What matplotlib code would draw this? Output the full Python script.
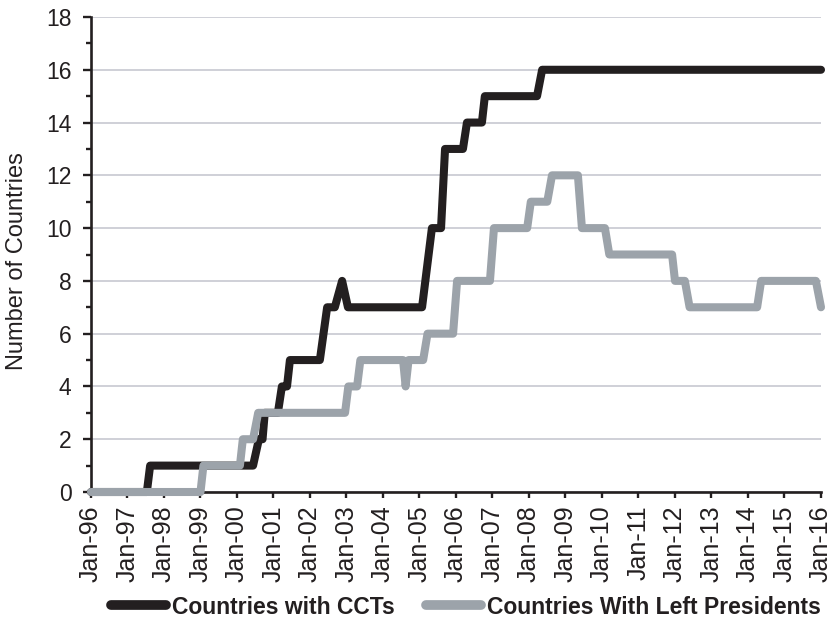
import matplotlib
matplotlib.use("Agg")
import matplotlib.pyplot as plt
from matplotlib.ticker import MultipleLocator

plt.rcParams['font.family'] = ['Liberation Sans', 'DejaVu Sans']

# step series, x in decimal years (both ends of each change)
cct_t = [1996.0, 1997.53, 1997.62, 2000.44, 2000.60, 2000.70, 2000.76,
         2001.12, 2001.23, 2001.37, 2001.45, 2002.27, 2002.47, 2002.68,
         2002.88, 2003.04, 2005.07, 2005.34, 2005.59, 2005.70, 2006.19,
         2006.30, 2006.71, 2006.79, 2008.22, 2008.36, 2016.0]
cct_n = [0, 0, 1, 1, 2, 2, 3,
         3, 4, 4, 5, 5, 7, 7,
         8, 7, 7, 10, 10, 13, 13,
         14, 14, 15, 15, 16, 16]

left_t = [1996.0, 1999.0, 1999.08, 2000.08, 2000.16, 2000.44, 2000.58,
          2002.96, 2003.05, 2003.29, 2003.38, 2004.55, 2004.62, 2004.70,
          2005.10, 2005.22, 2005.92, 2006.03, 2006.93, 2007.04, 2007.95,
          2008.05, 2008.50, 2008.63, 2009.34, 2009.45, 2010.08, 2010.20,
          2011.92, 2012.0, 2012.27, 2012.40, 2014.25, 2014.36, 2015.86, 2016.0]
left_n = [0, 0, 1, 1, 2, 2, 3,
          3, 4, 4, 5, 5, 4, 5,
          5, 6, 6, 8, 8, 10, 10,
          11, 11, 12, 12, 10, 10, 9,
          9, 8, 8, 7, 7, 8, 8, 7]

years = list(range(1996, 2017))
year_labels = ['Jan-%02d' % (y % 100) for y in years]

fig = plt.figure(figsize=(8.34, 6.25), dpi=100)
ax = fig.add_axes([91/834, 133/625, 730/834, 475/625])

blk = '#231f20'
gry = '#9ca3aa'
ax.plot(cct_t, cct_n, color=blk, lw=5.8, solid_capstyle='round',
        solid_joinstyle='round', label='Countries with CCTs', zorder=3, clip_on=False)
ax.plot(left_t, left_n, color=gry, lw=5.8, solid_capstyle='round',
        solid_joinstyle='round', label='Countries With Left Presidents', zorder=4, clip_on=False)

ax.set_xlim(1996, 2016)
ax.set_ylim(0, 18)
ax.yaxis.set_major_locator(MultipleLocator(2))
ax.yaxis.set_minor_locator(MultipleLocator(1))
ax.set_xticks(years)
ax.set_xticklabels(year_labels, rotation=90)
ax.grid(axis='y', color='#cfd0d7', lw=1.4, zorder=0)
ax.set_axisbelow(True)

for s in ['top', 'right']:
    ax.spines[s].set_visible(False)
ax.spines['left'].set_linewidth(1.9)
ax.spines['bottom'].set_linewidth(1.9)
ax.spines['left'].set_color(blk)
ax.spines['bottom'].set_color(blk)

ax.tick_params(axis='y', which='major', length=6, width=1.7, pad=8, labelsize=16.5, colors=blk)
ax.tick_params(axis='y', which='minor', length=3.5, width=1.7, colors=blk)
ax.tick_params(axis='x', length=4.5, width=1.7, pad=5, labelsize=18, colors=blk)

ax.set_ylabel('Number of Countries', fontsize=17, color=blk)
ax.yaxis.set_label_coords(-0.086, 0.486)

leg = fig.legend(loc='center', bbox_to_anchor=(466/834, 18/625), ncol=2, frameon=False,
                 prop={'weight': 'bold', 'size': 16.5}, handlelength=2.4,
                 handletextpad=0.25, columnspacing=1.4)
for t in leg.get_texts():
    t.set_color(blk)
for h in leg.legend_handles:
    h.set_linewidth(7)

fig.savefig('out.png', dpi=100)
